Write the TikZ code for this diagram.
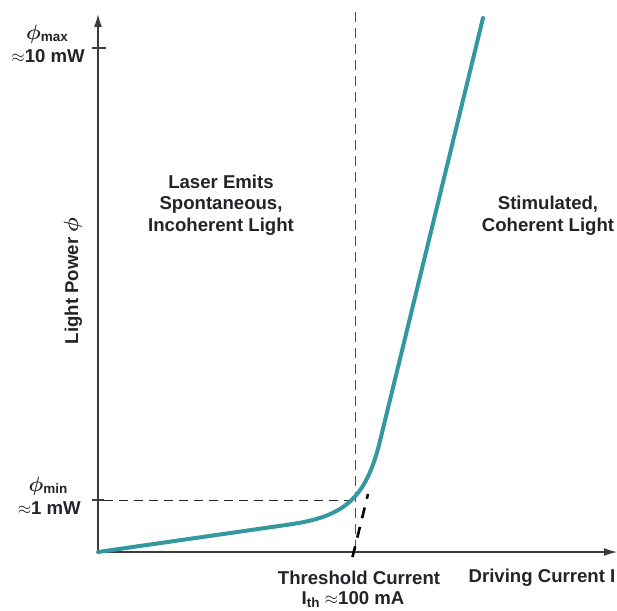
\documentclass[tikz,border=0pt]{standalone}
\usepackage{fontspec}
\setmainfont{Liberation Sans}
\usetikzlibrary{arrows.meta}
\definecolor{curve}{RGB}{52,152,160}
\definecolor{axisc}{RGB}{60,60,64}
\definecolor{thr}{RGB}{150,40,80}
\definecolor{txt}{RGB}{35,35,40}
\newcommand{\sub}[1]{\raisebox{-0.3ex}{\fontsize{13.5}{13.5}\selectfont #1}}
\newcommand{\bphi}{{\boldmath\scalebox{1.2}{$\phi$}}}
\tikzset{
  lbl/.style={font=\fontsize{18.6}{21.7}\selectfont\bfseries, text=txt, inner sep=0pt, align=center},
  axisline/.style={draw=axisc, line width=1.3pt, -{Latex[length=13pt,width=8pt]}},
  tickline/.style={draw=axisc, line width=1.3pt},
  guide/.style={draw=txt, line width=1pt, dash pattern=on 9pt off 6pt},
  thrline/.style={draw=thr, line width=1pt, dash pattern=on 10pt off 6pt},
  extline/.style={draw=black, line width=2.6pt, dash pattern=on 11pt off 9pt},
  lightcurve/.style={draw=curve, line width=4pt, line cap=round}
}
\begin{document}
\begin{tikzpicture}[x=1pt,y=-1pt]
\useasboundingbox (0,0) rectangle (617,610);
% key points
\coordinate (O) at (98,552);
\coordinate (ytop) at (98,14);
\coordinate (xend) at (617,552);
\coordinate (maxL) at (92,48);
\coordinate (maxR) at (106,48);
\coordinate (minL) at (92,500);
\coordinate (minR) at (104,500);
\coordinate (thrtop) at (355,12);
\coordinate (thrbot) at (355,552);
\coordinate (knee) at (355,500);
\coordinate (lin) at (290,524.4);
\coordinate (steep) at (380,441);
\coordinate (top) at (483,18);
\coordinate (extbot) at (352.5,557);
\coordinate (extup) at (368,494);
% axes
\draw[axisline] (O) -- (ytop);
\draw[axisline] (O) -- (xend);
\draw[tickline] (maxL) -- (maxR);
\draw[tickline] (minL) -- (minR);
% guides
\draw[guide] (minR) -- (knee);
\draw[thrline] (thrtop) -- (thrbot);
\draw[extline] (extbot) -- (extup);
% characteristic
\draw[lightcurve] (O) -- (lin) .. controls (345,516.5) and (366,498) .. (steep) -- (top);
% labels
\node[lbl, anchor=base] (pmax) at (47,39) {\bphi\sub{max}};
\node[lbl, anchor=base east] (wmax) at (85,62) {$\approx$10 mW};
\node[lbl, anchor=base] (pmin) at (48,491) {\bphi\sub{min}};
\node[lbl, anchor=base east] (wmin) at (81,514) {$\approx$1 mW};
\node[lbl, rotate=90] (ylab) at (73,281) {Light Power \bphi};
\node[lbl] (spont) at (221,205) {Laser Emits\\Spontaneous,\\Incoherent Light};
\node[lbl] (stim) at (548,215.5) {Stimulated,\\Coherent Light};
\node[lbl] (thrlab) at (359,578) {Threshold Current};
\node[lbl] (ith) at (353,600) {I\sub{th} $\approx$100 mA};
\node[lbl] (xlab) at (542,578) {Driving Current I};
\end{tikzpicture}
\end{document}
